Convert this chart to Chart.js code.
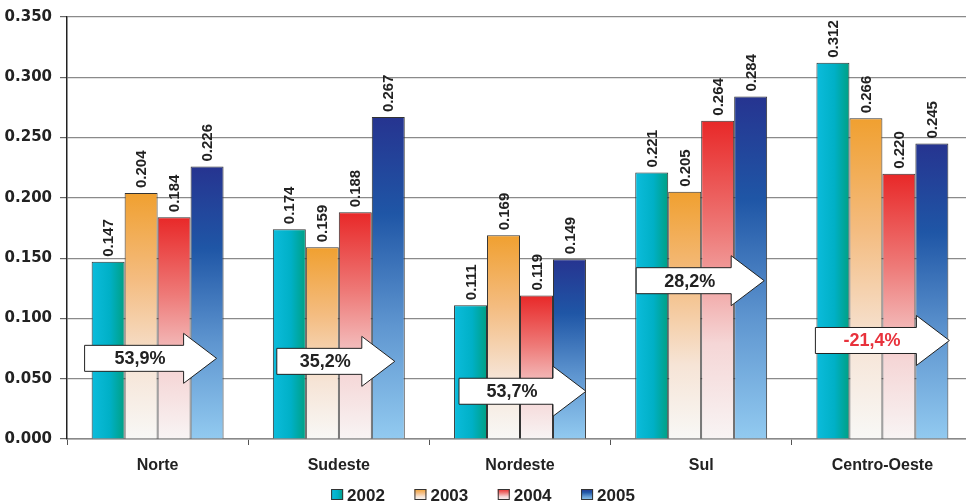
<!DOCTYPE html>
<html>
<head>
<meta charset="utf-8">
<script src="https://cdn.jsdelivr.net/npm/chart.js@4.4.0/dist/chart.umd.min.js"></script>
<style>
    html, body { margin: 0; padding: 0; background: #fff; overflow: hidden; }
    #wrap { width: 966px; height: 503px; overflow: hidden; }
</style>
</head>
<body>
<!-- the plot area runs a few px past the right edge, as in the original -->
<div id="wrap"><canvas id="chart" width="973" height="503"></canvas></div>
<script>
// Dados
const categories = ['Norte', 'Sudeste', 'Nordeste', 'Sul', 'Centro-Oeste'];
const years = ['2002', '2003', '2004', '2005'];
const values2002 = [0.147, 0.174, 0.111, 0.221, 0.312];
const values2003 = [0.204, 0.159, 0.169, 0.205, 0.266];
const values2004 = [0.184, 0.188, 0.119, 0.264, 0.220];
const values2005 = [0.226, 0.267, 0.149, 0.284, 0.245];
const growthLabels = ['53,9%', '35,2%', '53,7%', '28,2%', '-21,4%'];
const yMax = 0.35;
const yStep = 0.05;

// Estilos
const GROUP_PCT = 0.728;
const VISIBLE_W = 966;
const FONT = '"Liberation Sans", Arial, sans-serif';
const gradientStops = [
    [[0, '#0cbcdc'], [0.55, '#00b0c6'], [1, '#00a083']],               // 2002, horizontal
    [[0, '#f0a030'], [0.35, '#f4bc80'], [0.7, '#f6e4d6'], [1, '#f8f8f6']],
    [[0, '#e82828'], [0.35, '#ee7a78'], [0.7, '#f5d6d6'], [1, '#f8f4f4']],
    [[0, '#263490'], [0.3, '#1f56a6'], [0.65, '#5f96d0'], [1, '#92caf0']]
];

// Posição das setas (offset em px a partir do centro da categoria, altura em unidades do eixo)
const arrowSpots = [
    { left: -73, tip: 59, at: 0.0669, color: '#222' },
    { left: -62, tip: 56, at: 0.0644, color: '#222' },
    { left: -61, tip: 66, at: 0.0396, color: '#222' },
    { left: -65, tip: 63, at: 0.1313, color: '#222' },
    { left: -67, tip: 67, at: 0.0817, color: '#e8323c' }
];

function barBox(ctx) {
    const chart = ctx.chart;
    const xs = chart.scales.x, ys = chart.scales.y;
    const catW = xs.width / categories.length;
    const barW = catW * GROUP_PCT / years.length;
    const left = xs.getPixelForValue(ctx.dataIndex) - catW * GROUP_PCT / 2 + ctx.datasetIndex * barW;
    return { left, right: left + barW, top: ys.getPixelForValue(ctx.raw), bottom: ys.getPixelForValue(0) };
}

function barFill(ctx) {
    const stops = gradientStops[ctx.datasetIndex];
    const chart = ctx.chart;
    if (ctx.type !== 'data' || !chart.chartArea || !chart.scales.x) return stops[0][1];
    const b = barBox(ctx);
    const g = ctx.datasetIndex === 0
        ? chart.ctx.createLinearGradient(b.left, 0, b.right, 0)
        : chart.ctx.createLinearGradient(0, b.top, 0, b.bottom);
    stops.forEach(s => g.addColorStop(s[0], s[1]));
    return g;
}

// Rótulos de valor (verticais)
const valueLabels = {
    id: 'valueLabels',
    afterDatasetsDraw(chart) {
        const c = chart.ctx;
        c.save();
        c.font = 'bold 15px ' + FONT;
        c.fillStyle = '#222';
        c.textAlign = 'left';
        c.textBaseline = 'middle';
        chart.data.datasets.forEach((ds, di) => {
            chart.getDatasetMeta(di).data.forEach((bar, i) => {
                c.save();
                c.translate(bar.x + 1, bar.y - 5);
                c.rotate(-Math.PI / 2);
                c.fillText(ds.data[i].toFixed(3), 0, 0);
                c.restore();
            });
        });
        c.restore();
    }
};

// Setas com a variação percentual
const growthArrows = {
    id: 'growthArrows',
    afterDatasetsDraw(chart) {
        const c = chart.ctx;
        const xs = chart.scales.x, ys = chart.scales.y;
        const headLen = 33, bodyHalf = 13, headHalf = 25;
        c.save();
        arrowSpots.forEach((a, i) => {
            const cx = xs.getPixelForValue(i);
            const x0 = cx + a.left, x2 = cx + a.tip, x1 = x2 - headLen;
            const y = ys.getPixelForValue(a.at);
            c.beginPath();
            c.moveTo(x0, y - bodyHalf);
            c.lineTo(x1, y - bodyHalf);
            c.lineTo(x1, y - headHalf);
            c.lineTo(x2, y);
            c.lineTo(x1, y + headHalf);
            c.lineTo(x1, y + bodyHalf);
            c.lineTo(x0, y + bodyHalf);
            c.closePath();
            c.fillStyle = '#fff';
            c.fill();
            c.lineWidth = 1;
            c.strokeStyle = '#222';
            c.stroke();
            c.font = 'bold 18px ' + FONT;
            c.fillStyle = a.color;
            c.textAlign = 'center';
            c.textBaseline = 'middle';
            c.fillText(growthLabels[i], (x0 + x1) / 2 + 6, y + 1);
        });
        c.restore();
    }
};

// Legenda desenhada à mão
const bottomLegend = {
    id: 'bottomLegend',
    afterDraw(chart) {
        const c = chart.ctx;
        const box = 12, gap = 4, spacing = 29.5, yMid = 495;
        c.save();
        c.font = 'bold 17px ' + FONT;
        c.textBaseline = 'middle';
        c.textAlign = 'left';
        const widths = years.map(t => box + gap + c.measureText(t).width);
        const total = widths.reduce((s, w) => s + w, 0) + spacing * (years.length - 1);
        let x = VISIBLE_W / 2 - total / 2;
        years.forEach((t, i) => {
            const top = yMid - 6;
            const g = i === 0
                ? c.createLinearGradient(x, 0, x + box, 0)
                : c.createLinearGradient(0, top, 0, top + 11);
            gradientStops[i].forEach(s => g.addColorStop(s[0], s[1]));
            c.fillStyle = g;
            c.fillRect(x, top, box, 11);
            c.lineWidth = 1;
            c.strokeStyle = '#333';
            c.strokeRect(x + 0.5, top + 0.5, box - 1, 10);
            c.fillStyle = '#222';
            c.fillText(t, x + box + gap, yMid + 1);
            x += widths[i] + spacing;
        });
        c.restore();
    }
};

const datasets = [values2002, values2003, values2004, values2005].map((vals, i) => ({
    label: years[i],
    data: vals,
    backgroundColor: barFill,
    borderColor: '#333',
    borderWidth: 1,
    categoryPercentage: GROUP_PCT,
    barPercentage: 1.0
}));

new Chart(document.getElementById('chart'), {
    type: 'bar',
    data: { labels: categories, datasets },
    options: {
        responsive: false,
        animation: false,
        layout: { padding: { top: 15, right: 0, bottom: 0, left: 0 } },
        plugins: {
            legend: { display: false },
            tooltip: { enabled: false }
        },
        scales: {
            x: {
                afterFit: s => { s.height = 64; },
                grid: { display: true, drawOnChartArea: false, offset: true, tickLength: 6, color: '#555' },
                border: { color: '#888', width: 1.5 },
                ticks: { color: '#222', padding: 11, font: { family: FONT, size: 16, weight: 'bold' } }
            },
            y: {
                min: 0,
                max: yMax,
                afterFit: s => { s.width = 67; },
                grid: { color: '#8a8a8a', lineWidth: 1.2, tickLength: 7, tickColor: '#666' },
                border: { color: '#222', width: 1.5 },
                ticks: {
                    stepSize: yStep,
                    padding: 8,
                    color: '#222',
                    font: { family: '"DejaVu Sans", sans-serif', size: 15, weight: 'bold' },
                    callback: v => Number(v).toFixed(3)
                }
            }
        }
    },
    plugins: [valueLabels, growthArrows, bottomLegend]
});
</script>
</body>
</html>
